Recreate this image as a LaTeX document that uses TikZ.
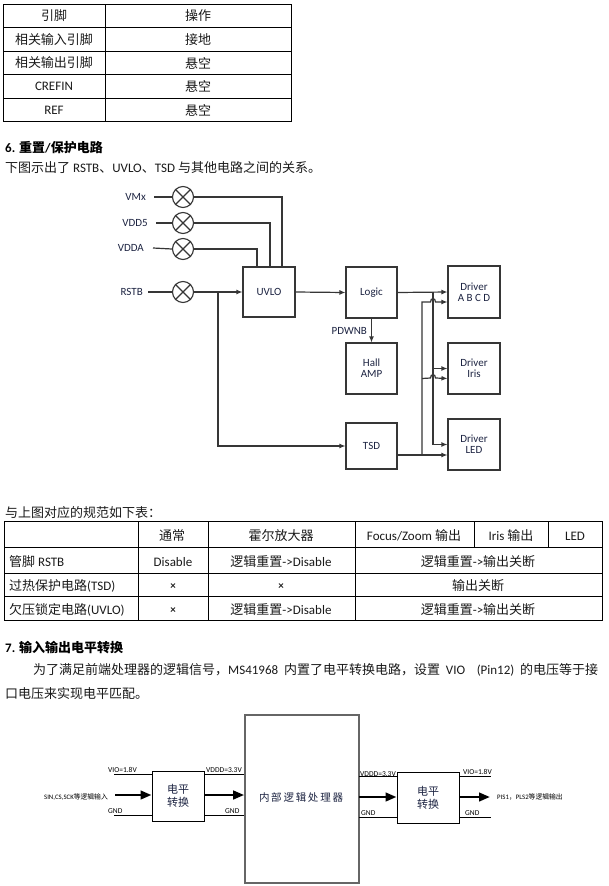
\documentclass[tikz,border=0pt]{standalone}
\usepackage{fontspec}
\setmainfont{Carlito}
\newfontfamily\cjk{Noto Sans CJK SC}
\usetikzlibrary{arrows.meta}
\definecolor{ln}{HTML}{363636}
\definecolor{lbl}{HTML}{1D2442}
\definecolor{txt}{HTML}{1A1A1A}
\newcommand\zh[1]{{\cjk #1}}
\newcommand\fsz[1]{\fontsize{#1}{#1}\selectfont}
\tikzset{
 body/.style={font=\fsz{13}, inner sep=0pt, text=txt},
 head/.style={font=\fsz{13}\bfseries, inner sep=0pt, text=black},
 tbl/.style={draw=black, line width=0.7pt},
 dlbl/.style={font=\fsz{11}, text=lbl, inner sep=0pt},
 blk/.style={draw=ln, line width=1.1pt, minimum width=51pt, minimum height=51pt, inner sep=0pt, align=center, font=\fsz{11}, text=lbl},
 xc/.style={draw=ln, circle, minimum size=21pt, inner sep=0pt, line width=1.1pt},
 wire/.style={draw=ln, line width=1.2pt},
 arr/.style={wire, -{Latex[length=6pt,width=5pt]}},
 thin/.style={draw=black, line width=0.8pt},
 thick/.style={draw=black, line width=2.6pt, -{Triangle[length=11pt,width=8.5pt]}},
 slbl/.style={font=\fsz{7.5}, inner sep=0pt, text=black},
 lsbox/.style={draw=black, line width=0.9pt, inner sep=0pt, align=center, font=\fsz{11}\cjk, text=lbl},
}
\begin{document}
\begin{tikzpicture}[x=1pt,y=-1pt]
\path[use as bounding box, fill=white] (0,0) rectangle (609,886);

% ---------- table 1
\draw[tbl] (3,4) rectangle (291,121);
\draw[tbl] (105,4) -- (105,121);
\foreach \y in {27,51,74,98} \draw[tbl] (3,\y) -- (291,\y);
\node[body] (t1a) at (54,16) {\zh{引脚}};
\node[body] (t1b) at (198,16) {\zh{操作}};
\node[body] (t1c) at (54,39.5) {\zh{相关输入引脚}};
\node[body] (t1d) at (198,39.5) {\zh{接地}};
\node[body] (t1e) at (54,63) {\zh{相关输出引脚}};
\node[body] (t1f) at (198,63) {\zh{悬空}};
\node[body] (t1g) at (54,86.5) {CREFIN};
\node[body] (t1h) at (198,86.5) {\zh{悬空}};
\node[body] (t1i) at (54,110) {REF};
\node[body] (t1j) at (198,110) {\zh{悬空}};

% ---------- section 6
\node[head, anchor=west] (h6) at (5,148) {6. \zh{\bfseries 重置}/\zh{\bfseries 保护电路}};
\node[body, anchor=west] (s6) at (5,168) {\zh{下图示出了} RSTB\zh{、}UVLO\zh{、}TSD \zh{与其他电路之间的关系。}};

% circles
\node[xc] (cVM) at (183,197) {};
\node[xc] (cV5) at (183,223) {};
\node[xc] (cVA) at (183,249) {};
\node[xc] (cR)  at (183,292) {};
\foreach \c in {cVM,cV5,cVA,cR}
  \draw[wire] (\c.north east) -- (\c.south west) (\c.north west) -- (\c.south east);
\node[dlbl, anchor=east] (lVM) at (146,197) {VMx};
\node[dlbl, anchor=east] (lV5) at (148,223) {VDD5};
\node[dlbl, anchor=east] (lVA) at (144,248) {VDDA};
\node[dlbl, anchor=east] (lR)  at (143,292) {RSTB};
\draw[wire] ([xshift=8pt]lVM.east) -- (cVM.west);
\draw[wire] ([xshift=8pt]lV5.east) -- (cV5.west);
\draw[wire] ([xshift=9pt]lVA.east) -- (cVA.west);
\draw[wire] ([xshift=5pt]lR.east) -- (cR.west);

% blocks
\node[blk, minimum width=52pt, minimum height=50pt] (uvlo) at (269,292) {UVLO};
\node[blk] (logic) at (371.5,292.5) {Logic};
\node[blk, minimum height=51pt] (hall) at (371.5,368.5) {Hall\\AMP};
\node[blk, minimum height=46pt] (tsd) at (371.5,446) {TSD};
\node[blk, minimum width=52pt, minimum height=52pt] (drvA) at (474,292) {Driver\\A B C D};
\node[blk, minimum width=52pt, minimum height=51pt] (drvI) at (474,368.5) {Driver\\Iris};
\node[blk, minimum width=52pt, minimum height=51pt] (drvL) at (474,444.5) {Driver\\LED};

% UVLO inputs
\draw[wire] (cVM.east) -| ([xshift=13pt]uvlo.north);
\draw[wire] (cV5.east) -| ([xshift=1pt]uvlo.north);
\draw[wire] (cVA.east) -| ([xshift=-12pt]uvlo.north);
\draw[arr] (cR.east) -- (uvlo.west);
\coordinate (j1) at (218,292);
\draw[arr] (j1) |- (tsd.west);
\draw[arr] (uvlo.east) -- (logic.west);
\draw[arr] (logic.south) -- (hall.north) node[midway, left, dlbl, xshift=-4pt] (pd) {PDWNB};
\draw[arr] (logic.east) -- (drvA.west);

\coordinate (v1top) at (433,292);
\draw[arr] (v1top) |- (drvL.west);
\draw[arr] (v1top |- drvI.west) -- (drvI.west);

\coordinate (tsdo) at ([yshift=-9pt]tsd.east);
\coordinate (v2bot) at (422,455);
\coordinate (a2) at ([yshift=-10pt]drvA.west);
\coordinate (i2) at ([yshift=-10pt]drvI.west);
\draw[arr] (tsdo) -- (tsdo -| drvL.west);
\draw[arr] (v2bot) -- (v2bot |- a2) -- (430.5,302) .. controls (430.5,297.5) and (435.5,297.5) .. (435.5,302) -- (a2);
\draw[arr] (v2bot |- i2) -- (430.5,378) .. controls (430.5,373.5) and (435.5,373.5) .. (435.5,378) -- (i2);

% ---------- table 2
\node[body, anchor=west] (s6b) at (5,513) {\zh{与上图对应的规范如下表：}};
\draw[tbl] (4,521) rectangle (602,620);
\foreach \y in {547,573,596} \draw[tbl] (4,\y) -- (602,\y);
\foreach \x in {138,208,355} \draw[tbl] (\x,521) -- (\x,620);
\foreach \x in {474,548} \draw[tbl] (\x,521) -- (\x,547);
\node[body] (h1) at (172,536) {\zh{通常}};
\node[body] (h2) at (281,536) {\zh{霍尔放大器}};
\node[body] (h3) at (414,536) {Focus/Zoom \zh{输出}};
\node[body] (h4) at (511,536) {Iris \zh{输出}};
\node[body] (h5) at (575,536) {LED};
\node[body, anchor=west] (r1a) at (9,562) {\zh{管脚} RSTB};
\node[body] (r1b) at (173,562) {Disable};
\node[body] (r1c) at (281,562) {\zh{逻辑重置}->Disable};
\node[body] (r1d) at (478,562) {\zh{逻辑重置}->\zh{输出关断}};
\node[body, anchor=west] (r2a) at (9,586) {\zh{过热保护电路}(TSD)};
\node[body, font=\fsz{11}\bfseries] (r2b) at (173,587) {×};
\node[body, font=\fsz{11}\bfseries] (r2c) at (281,587) {×};
\node[body] (r2d) at (478,586) {\zh{输出关断}};
\node[body, anchor=west] (r3a) at (9,610) {\zh{欠压锁定电路}(UVLO)};
\node[body, font=\fsz{11}\bfseries] (r3b) at (173,611) {×};
\node[body] (r3c) at (281,610) {\zh{逻辑重置}->Disable};
\node[body] (r3d) at (478,610) {\zh{逻辑重置}->\zh{输出关断}};

% ---------- section 7
\node[head, anchor=west] (h7) at (5,648) {7. \zh{\bfseries 输入输出电平转换}};
\node[body, anchor=west] (p1) at (33,670) {\makebox[565pt][s]{\zh{为了满足前端处理器的逻辑信号，}MS41968 \zh{内置了电平转换电路，设置} VIO\ \ (Pin12) \zh{的电压等于接}}};
\node[body, anchor=west] (p2) at (5,694) {\zh{口电压来实现电平匹配。}};

% ---------- bottom diagram
\node[draw=black!60, line width=1.6pt, minimum width=114pt, minimum height=168pt, inner sep=0pt] (cpu) at (302,799) {};
\node[font=\fsz{10.5}\cjk, text=lbl, inner sep=0pt] (cput) at (301,797) {内\,部\,逻\,辑\,处\,理\,器};
\node[lsbox, minimum width=52pt, minimum height=50pt] (ls1) at (178,796) {电平\\[2pt]转换};
\node[lsbox, minimum width=62pt, minimum height=51pt] (ls2) at (428,797.5) {电平\\[2pt]转换};

\coordinate (a1) at (114,774);
\coordinate (g1) at (114,815);
\coordinate (in1) at (115,795);
\draw[thin] (a1) -- (a1 -| ls1.west);
\draw[thin] (g1) -- (g1 -| ls1.west);
\draw[thick] (in1) -- (in1 -| ls1.west);
\node[slbl, anchor=base west] (lv1) at (108,772.5) {VIO=1.8V};
\node[slbl, anchor=base west] (lg1) at (108,813) {GND};
\node[font=\fsz{6.8}, inner sep=0pt, anchor=east] (lin) at (108,797) {SIN,CS,SCK\zh{等逻辑输入}};

\coordinate (b1) at (204,774);
\coordinate (b2) at (204,815);
\coordinate (b3) at (204,795);
\draw[thin] (b1) -- (b1 -| cpu.west);
\draw[thin] (b2) -- (b2 -| cpu.west);
\draw[thick] (b3) -- (b3 -| cpu.west);
\node[slbl, anchor=base west] (lv2) at (206,772.5) {VDDD=3.3V};
\node[slbl, anchor=base west] (lg2) at (225,813) {GND};

\coordinate (c1) at (359,776);
\coordinate (c2) at (359,817);
\coordinate (c3) at (359,797);
\draw[thin] (c1) -- (c1 -| ls2.west);
\draw[thin] (c2) -- (c2 -| ls2.west);
\draw[thick] (c3) -- (c3 -| ls2.west);
\node[slbl, anchor=base west] (lv3) at (360,776) {VDDD=3.3V};
\node[slbl, anchor=base west] (lg3) at (361,815.5) {GND};

\coordinate (d1) at (491,776);
\coordinate (d2) at (491,817);
\coordinate (d3) at (490,797);
\draw[thin] (ls2.east |- d1) -- (d1);
\draw[thin] (ls2.east |- d2) -- (d2);
\draw[thick] (ls2.east |- d3) -- (d3);
\node[slbl, anchor=base west] (lv4) at (463,774.5) {VIO=1.8V};
\node[slbl, anchor=base west] (lg4) at (465,815) {GND};
\node[font=\fsz{6.8}, inner sep=0pt, anchor=west] (lout) at (497,797) {PIS1\zh{，}PLS2\zh{等逻辑输出}};
\end{tikzpicture}
\end{document}
